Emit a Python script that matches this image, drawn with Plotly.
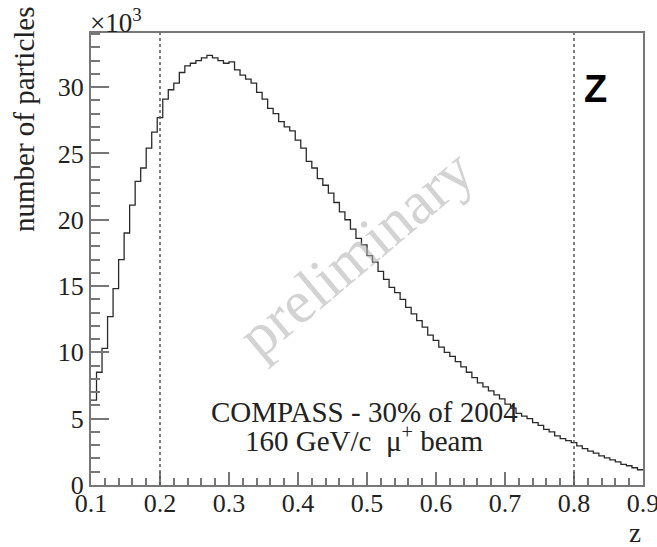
import plotly.graph_objects as go

# ---- data (number of particles, in units of 10^3) ----
z_min = 0.1
z_max = 0.9
n_bins = 100
counts_k = [
    6.4, 8.5, 10.3, 12.7, 14.8, 17.0, 19.0, 21.1, 22.9, 23.9,
    25.4, 26.6, 27.7, 29.1, 29.8, 30.3, 31.1, 31.6, 31.8, 32.0,
    32.2, 32.4, 32.2, 32.0, 31.8, 31.9, 31.3, 30.9, 30.6, 30.3,
    29.6, 29.1, 28.4, 28.0, 27.4, 27.0, 26.7, 26.0, 25.4, 24.4,
    23.9, 23.1, 22.6, 22.0, 21.3, 20.6, 20.0, 19.3, 18.6, 18.1,
    17.3, 16.8, 16.1, 15.5, 14.9, 14.5, 14.0, 13.4, 12.9, 12.4,
    11.9, 11.3, 10.9, 10.4, 10.0, 9.7, 9.3, 8.9, 8.5, 8.1,
    7.7, 7.4, 7.1, 6.8, 6.5, 6.1, 5.8, 5.4, 5.2, 5.0,
    4.7, 4.5, 4.2, 4.0, 3.7, 3.5, 3.35, 3.2, 2.95, 2.75,
    2.55, 2.4, 2.2, 2.05, 1.9, 1.75, 1.55, 1.45, 1.3, 1.15,
]
cut_values = [0.2, 0.8]
x_ticks = [0.1, 0.2, 0.3, 0.4, 0.5, 0.6, 0.7, 0.8, 0.9]
x_tick_labels = ["0.1", "0.2", "0.3", "0.4", "0.5", "0.6", "0.7", "0.8", "0.9"]
y_ticks = [0, 5, 10, 15, 20, 25, 30]
y_tick_labels = ["0", "5", "10", "15", "20", "25", "30"]

bin_width = (z_max - z_min) / n_bins
edges = [z_min + i * bin_width for i in range(n_bins + 1)]
step_x = edges
step_y = counts_k + [counts_k[-1]]

SERIF = "Liberation Serif"
W, H = 657, 547
L, R, T, B = 91, 14, 33, 62
pw, ph = W - L - R, H - T - B


def px(x):
    return (x - L) / pw


def py(y):
    return (H - B - y) / ph


fig = go.Figure()
fig.add_trace(go.Scatter(
    x=step_x, y=step_y, mode="lines",
    line=dict(shape="hv", color="#2a2a2a", width=1.3),
    hoverinfo="skip", showlegend=False,
))

for c in cut_values:
    fig.add_shape(type="line", xref="x", yref="paper", x0=c, x1=c, y0=0, y1=1,
                  line=dict(color="#555555", width=1.5, dash="dot"))

annotations = [
    dict(text="×10<sup>3</sup>", x=0, y=1, xref="paper", yref="paper",
         xanchor="left", yanchor="bottom", yshift=-7, xshift=-3,
         font=dict(family=SERIF, size=27, color="#222")),
    dict(text="number of particles", x=px(24), y=py(120), xref="paper", yref="paper",
         textangle=-90, xanchor="center", yanchor="middle",
         font=dict(family=SERIF, size=29, color="#222")),
    dict(text="z", x=px(635), y=py(533), xref="paper", yref="paper",
         xanchor="center", yanchor="middle",
         font=dict(family=SERIF, size=27, color="#222")),
    dict(text="<b>Z</b>", x=px(595), y=py(89), xref="paper", yref="paper",
         xanchor="center", yanchor="middle",
         font=dict(family="Liberation Sans", size=38, color="#000")),
    dict(text="preliminary", x=px(355), y=py(253), xref="paper", yref="paper",
         xanchor="center", yanchor="middle", textangle=-40,
         font=dict(family=SERIF, size=61, color="rgba(175,175,175,0.55)")),
    dict(text="COMPASS - 30% of 2004", x=px(364), y=py(412), xref="paper", yref="paper",
         xanchor="center", yanchor="middle",
         font=dict(family=SERIF, size=29, color="#222")),
    dict(text="160 GeV/c \u00a0μ<sup>+</sup> beam", x=px(364), y=py(439), xref="paper", yref="paper",
         xanchor="center", yanchor="middle",
         font=dict(family=SERIF, size=29, color="#222")),
]
for a in annotations:
    a["showarrow"] = False
fig.update_layout(annotations=annotations)

fig.update_xaxes(
    range=[z_min, z_max], tickvals=x_ticks, ticktext=x_tick_labels,
    ticks="inside", ticklen=13, tickwidth=1.5, tickcolor="#777",
    showline=True, linecolor="#777", linewidth=2, mirror=True,
    showgrid=False, zeroline=False, ticklabelstandoff=-6,
    ticklabeloverflow="allow", automargin=False,
    tickfont=dict(family=SERIF, size=26, color="#222"),
    minor=dict(ticks="inside", ticklen=7, tickwidth=1.5, tickcolor="#777", dtick=0.02,
               tick0=0.1, showgrid=False),
)
fig.update_yaxes(
    range=[0, 34.08], tickvals=y_ticks, ticktext=y_tick_labels,
    ticks="inside", ticklen=18, tickwidth=1.5, tickcolor="#777",
    showline=True, linecolor="#777", linewidth=2, mirror=True,
    showgrid=False, zeroline=False, automargin=False,
    tickfont=dict(family=SERIF, size=26, color="#222"),
    minor=dict(ticks="inside", ticklen=9, tickwidth=1.5, tickcolor="#777", dtick=1,
               tick0=0, showgrid=False),
)
fig.update_layout(
    width=W, height=H,
    margin=dict(l=L, r=R, t=T, b=B, pad=0, autoexpand=False),
    plot_bgcolor="white", paper_bgcolor="white",
    showlegend=False,
)
fig.write_html("out.html")
